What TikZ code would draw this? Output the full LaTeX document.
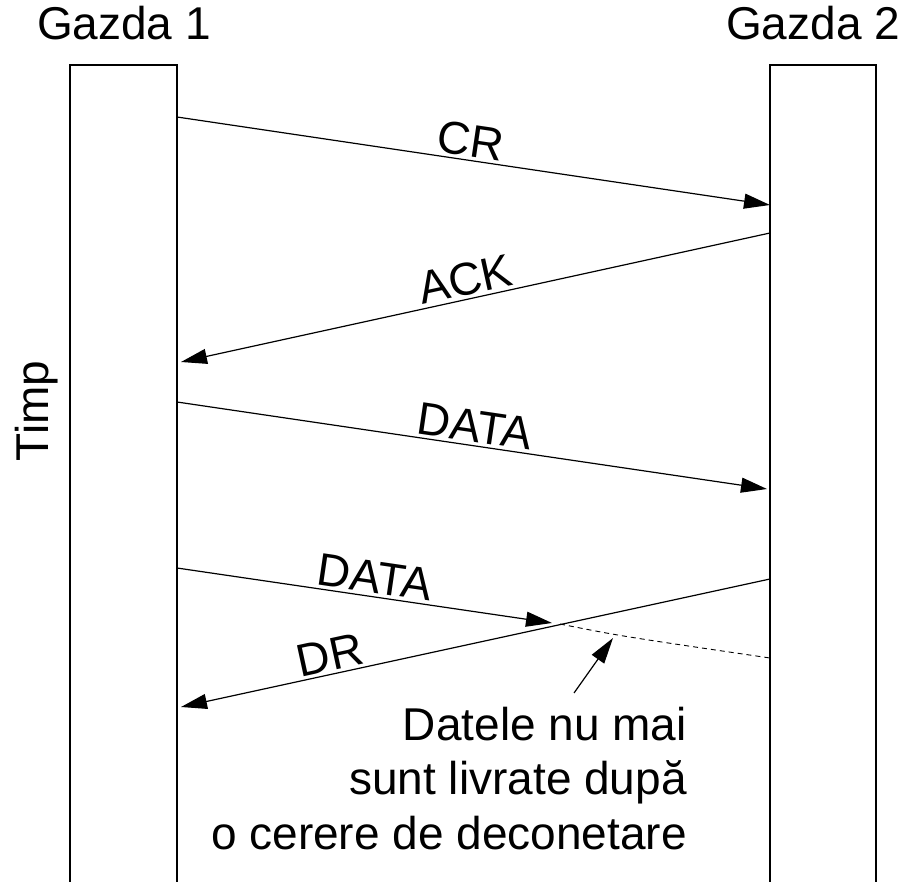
\documentclass[tikz,border=0pt]{standalone}
\usepackage{fontspec}
\setmainfont{Liberation Sans}
\usetikzlibrary{arrows.meta}
\begin{document}
\begin{tikzpicture}[x=1pt,y=-1pt,
  txt/.style={font=\fontsize{46}{54.5}\selectfont, inner sep=0pt},
  host/.style={txt, anchor=base},
  bar/.style={line width=1.4pt},
  msg/.style={line width=1.2pt, -{Triangle[length=26pt,width=15pt]}},
  lbl/.style={txt, sloped, above, inner sep=3pt},
  lost/.style={line width=0.9pt, dash pattern=on 5pt off 4pt},
]
\useasboundingbox (0,0) rectangle (902,882);

% host names and time axis
\node[host] (g1) at (124,40) {Gazda 1};
\node[host] (g2) at (813,40) {Gazda 2};
\node[txt, rotate=90, anchor=base] (timp) at (48,411) {Timp};

% host time bars (open at the bottom)
\draw[bar] (70,882) -- (70,65) -- (177,65) -- (177,882);
\draw[bar] (770,882) -- (770,65) -- (876,65) -- (876,882);

% message end points on the bars
\coordinate (cr-a)  at (177,117);
\coordinate (cr-b)  at (770,205);
\coordinate (ack-a) at (770,233);
\coordinate (ack-b) at (181,362);
\coordinate (d1-a)  at (177,402);
\coordinate (d1-b)  at (767,489);
\coordinate (d2-a)  at (177,568);
\coordinate (d2-b)  at (552,623);
\coordinate (dr-a)  at (770,579);
\coordinate (dr-b)  at (181,707);
\coordinate (cut)   at (560,624);
\coordinate (lost)  at (770,658);

% messages
\draw[msg] (cr-a)  -- node[lbl, pos=.49] {CR}   (cr-b);
\draw[msg] (ack-a) -- node[lbl, pos=.51] {ACK}  (ack-b);
\draw[msg] (d1-a)  -- node[lbl, pos=.50] {DATA} (d1-b);
\draw[msg] (d2-a)  -- node[lbl, pos=.52] {DATA} (d2-b);
\draw[msg] (dr-a)  -- node[lbl, pos=.74] {DR}   (dr-b);

% data that is never delivered
\draw[lost] (cut) .. controls (620,636) .. (lost);

% note (anchored at the baseline of its last line)
\node[txt, align=right, anchor=base east] (note) at (687,849)
  {Datele nu mai\\sunt livrate după\\o cerere de deconetare};
\coordinate (note-tip) at (613,638);
\coordinate (note-from) at (574,693);
\draw[msg] (note-from) -- (note-tip);
\end{tikzpicture}
\end{document}
